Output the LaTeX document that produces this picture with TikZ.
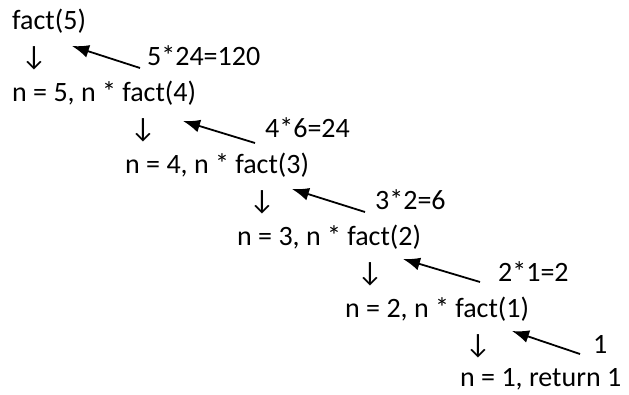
\documentclass[tikz,border=0pt]{standalone}
\usepackage{fontspec}
\setmainfont{Carlito}
\usetikzlibrary{arrows.meta}
\begin{document}
\begin{tikzpicture}[x=1pt,y=-1pt,
  txt/.style={anchor=base west,inner sep=0pt,font=\fontsize{28}{30}\selectfont},
  dn/.style={anchor=base,inner sep=0pt,font=\fontsize{28}{30}\selectfont},
  ret/.style={line width=1.8pt,-{Latex[length=17pt,width=13pt]}}]
\useasboundingbox (0,0) rectangle (629,394);
% main lines
\node[txt] (l0) at (12,29) {fact(5)};
\node[txt] (l1) at (12,101) {n = 5, n * fact(4)};
\node[txt] (l2) at (125,173) {n = 4, n * fact(3)};
\node[txt] (l3) at (237,245) {n = 3, n * fact(2)};
\node[txt] (l4) at (345,317) {n = 2, n * fact(1)};
\node[txt] (l5) at (460,386) {n = 1, return 1};
% down arrows
\node[dn] (d0) at (34,65) {↓};
\node[dn] (d1) at (143,137) {↓};
\node[dn] (d2) at (262,209) {↓};
\node[dn] (d3) at (370,281) {↓};
\node[dn] (d4) at (478,353) {↓};
% return values
\node[txt] (r0) at (147,65) {5*24=120};
\node[txt] (r1) at (265,137) {4*6=24};
\node[txt] (r2) at (375,209) {3*2=6};
\node[txt] (r3) at (498,281) {2*1=2};
\node[txt] (r4) at (593,353) {1};
% arrow ends
\coordinate (t0) at (140,68); \coordinate (h0) at (72,46);
\coordinate (t1) at (255,143); \coordinate (h1) at (183,121);
\coordinate (t2) at (365,212); \coordinate (h2) at (292,189);
\coordinate (t3) at (480,282); \coordinate (h3) at (403,259);
\coordinate (t4) at (580,354); \coordinate (h4) at (512,331);
\foreach \i in {0,...,4}{\draw[ret] (t\i) -- (h\i);}
\end{tikzpicture}
\end{document}
